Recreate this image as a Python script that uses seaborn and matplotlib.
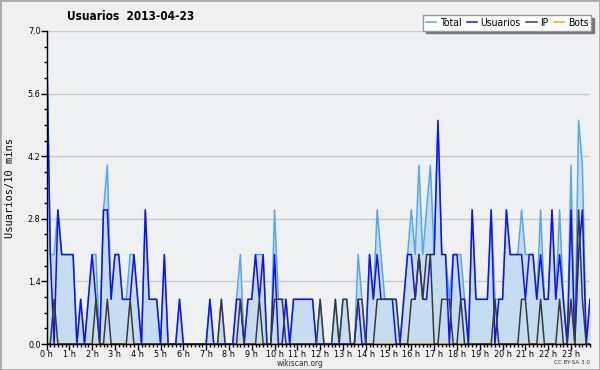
import numpy as np
import pandas as pd
import matplotlib
matplotlib.use("Agg")
import matplotlib.pyplot as plt
import seaborn as sns
from matplotlib.ticker import FixedLocator, MultipleLocator, FormatStrFormatter
from matplotlib.lines import Line2D
from matplotlib.patches import Rectangle

# counts per 10 minutes, 0h00 .. 23h50 (one row of 6 = one hour)
total = [7, 2, 2, 3, 2, 2,
         2, 2, 0, 1, 0, 1,
         2, 2, 0, 3, 4, 1,
         2, 2, 1, 1, 2, 2,
         1, 0, 3, 1, 1, 1,
         0, 2, 0, 0, 0, 1,
         0, 0, 0, 0, 0, 0,
         0, 1, 0, 0, 1, 0,
         0, 0, 1, 2, 0, 1,
         1, 2, 2, 2, 0, 0,
         3, 1, 1, 1, 0, 1,
         1, 1, 1, 1, 1, 0,
         1, 0, 0, 0, 1, 0,
         1, 1, 0, 0, 2, 1,
         0, 2, 1, 3, 2, 1,
         1, 1, 1, 0, 1, 2,
         3, 2, 4, 2, 3, 4,
         2, 5, 2, 2, 1, 2,
         2, 2, 1, 0, 3, 1,
         1, 1, 1, 3, 1, 1,
         1, 3, 2, 2, 2, 3,
         2, 2, 2, 1, 3, 1,
         1, 3, 1, 3, 1, 0,
         4, 0, 5, 4, 0, 1]
usuarios = [7, 2, 0, 3, 2, 2,
            2, 2, 0, 1, 0, 1,
            2, 1, 0, 3, 3, 1,
            2, 2, 1, 1, 1, 2,
            1, 0, 3, 1, 1, 1,
            0, 2, 0, 0, 0, 1,
            0, 0, 0, 0, 0, 0,
            0, 1, 0, 0, 0, 0,
            0, 0, 1, 1, 0, 1,
            1, 2, 1, 2, 0, 0,
            2, 0, 0, 1, 0, 1,
            1, 1, 1, 1, 1, 0,
            0, 0, 0, 0, 0, 0,
            0, 0, 0, 0, 1, 0,
            0, 2, 1, 2, 1, 1,
            1, 1, 0, 0, 1, 2,
            2, 1, 2, 1, 1, 2,
            2, 5, 2, 2, 0, 2,
            2, 1, 1, 0, 3, 1,
            1, 1, 1, 3, 0, 1,
            1, 3, 2, 2, 2, 2,
            1, 2, 2, 1, 2, 1,
            1, 3, 1, 2, 1, 0,
            3, 0, 2, 3, 0, 1]
ip = [0, 0, 1, 0, 0, 0,
      0, 0, 0, 0, 0, 0,
      0, 1, 0, 0, 1, 0,
      0, 0, 0, 0, 1, 0,
      0, 0, 0, 0, 0, 0,
      0, 0, 0, 0, 0, 0,
      0, 0, 0, 0, 0, 0,
      0, 0, 0, 0, 1, 0,
      0, 0, 0, 1, 0, 0,
      0, 0, 1, 0, 0, 0,
      1, 1, 1, 0, 0, 0,
      0, 0, 0, 0, 0, 0,
      1, 0, 0, 0, 1, 0,
      1, 1, 0, 0, 1, 1,
      0, 0, 0, 1, 1, 1,
      1, 1, 1, 0, 0, 0,
      1, 1, 2, 1, 2, 2,
      0, 0, 1, 1, 1, 0,
      0, 1, 0, 0, 0, 0,
      0, 0, 0, 0, 1, 0,
      0, 0, 0, 0, 0, 1,
      1, 0, 0, 0, 1, 0,
      0, 0, 0, 1, 0, 0,
      1, 0, 3, 1, 0, 0]
bots = [0] * 144
hour_labels = [f"{h} h" for h in range(24)]
y_ticks = [0.0, 1.4, 2.8, 4.2, 5.6, 7.0]

minutes = np.arange(len(total)) * 10
df = pd.DataFrame({"min": minutes, "Total": total, "Usuarios": usuarios,
                   "IP": ip, "Bots": bots})

colors = {"Total": "#55a8f0", "Usuarios": "#1010ff", "IP": "#3a3a3a", "Bots": "#ffa500"}

plt.rcParams["font.family"] = ["DejaVu Sans"]
plt.rcParams["font.stretch"] = "condensed"
fig = plt.figure(figsize=(6, 3.7), dpi=100, facecolor="#f0f0f0")
ax = fig.add_axes([46.5 / 600, 26 / 370, 543.5 / 600, 313 / 370])
ax.set_facecolor("#eff0f2")

ax.fill_between(df["min"], df["Total"], color="#c6dcf0", lw=0, zorder=1)
for name in ["Bots", "Total", "Usuarios", "IP"]:
    sns.lineplot(data=df, x="min", y=name, color=colors[name], lw=1.1, ax=ax, zorder=3)

ax.set_xlim(0, 1430)
ax.set_ylim(0, 7.0)
ax.yaxis.set_major_locator(FixedLocator(y_ticks))
ax.yaxis.set_minor_locator(MultipleLocator(0.35))
ax.yaxis.set_major_formatter(FormatStrFormatter("%.1f"))
ax.set_xticks(np.arange(24) * 60)
ax.set_xticklabels(hour_labels)
ax.xaxis.set_minor_locator(MultipleLocator(10))
ax.tick_params(axis="both", which="major", length=4, width=1, labelsize=6.5, pad=0.3, color="black")
ax.tick_params(axis="both", which="minor", length=2.5, width=1, color="black")
ax.grid(axis="y", color="#cccccc", lw=1, zorder=0)
ax.set_axisbelow(True)
ax.set_xlabel("")
ax.set_ylabel("")
for s in ["top", "right"]:
    ax.spines[s].set_visible(False)
for s in ["left", "bottom"]:
    ax.spines[s].set_color("black")
    ax.spines[s].set_linewidth(1)
    ax.spines[s].set_zorder(5)

fig.text(131 / 600, 1 - 16 / 370, "Usuarios  2013-04-23", ha="center", va="center",
         fontsize=8.5, fontweight="bold")
fig.text(10 / 600, 1 - 188 / 370, "Usuarios/10 mins", rotation=90, ha="center",
         va="center", fontsize=7.5, family="DejaVu Sans Mono")
fig.text(300 / 600, 1 - 363.5 / 370, "wikiscan.org", ha="center", va="center",
         fontsize=6, color="#333333")
fig.text(590 / 600, 1 - 363 / 370, "CC BY-SA 3.0", ha="right", va="center",
         fontsize=4.5, color="#333333")

handles = [Line2D([], [], color=colors[n], lw=1.1) for n in ["Total", "Usuarios", "IP", "Bots"]]
fig.legend(handles, ["Total", "Usuarios", "IP", "Bots"], loc="center",
           bbox_to_anchor=(507 / 600, 1 - 23 / 370), ncol=4, fontsize=7.5,
           handlelength=1.0, handletextpad=0.35, columnspacing=0.5, borderpad=0.25,
           borderaxespad=0, frameon=True, fancybox=False, edgecolor="#999999",
           facecolor="white", framealpha=1, shadow={"color": "#777777", "alpha": 1})

fig.patches.append(Rectangle((0, 0), 1, 1, transform=fig.transFigure, fill=False,
                             edgecolor="#aaaaaa", lw=2))

fig.savefig("out.png", dpi=100, facecolor=fig.get_facecolor())
